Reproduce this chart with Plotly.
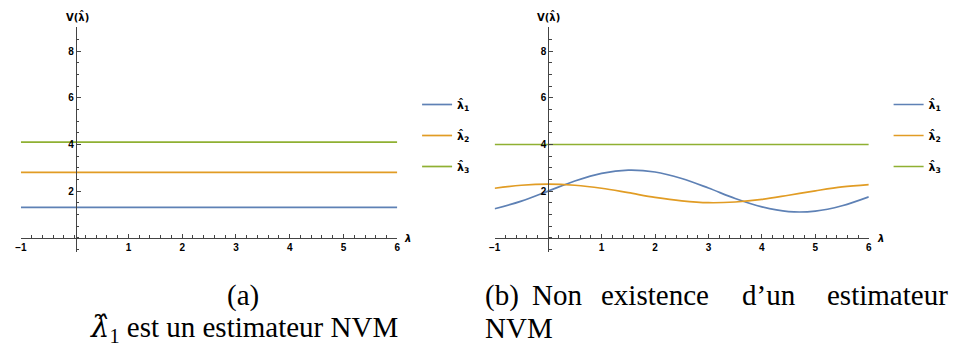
import plotly.graph_objects as go

# ---------------- data ----------------
x_ends = [-1, 6]
levels_a = {"1": 1.3, "2": 2.8, "3": 4.1}          # panel (a): constant variances

lam_b = [-1, -0.5, 0, 0.5, 1, 1.5, 2, 2.5, 3, 3.5, 4, 4.5, 5, 5.5, 6]
v1_b = [1.24, 1.57, 2.00, 2.43, 2.76, 2.90, 2.82, 2.54, 2.13, 1.68, 1.32, 1.12, 1.14, 1.37, 1.75]
v2_b = [2.12, 2.25, 2.30, 2.25, 2.12, 1.93, 1.73, 1.58, 1.50, 1.53, 1.64, 1.82, 2.01, 2.18, 2.28]
v3_b = 4.0

x_ticks = [-1, 1, 2, 3, 4, 5, 6]
y_ticks = [2, 4, 6, 8]

colors = {"1": "#5E81B5", "2": "#E19C24", "3": "#8FB032"}
names = {k: "λ\u0302<sub>%s</sub>" % k for k in ["1", "2", "3"]}

W, H = 955, 347
def px(x):
    return x / W
def py(y):
    return 1 - y / H

fig = go.Figure()

# panel (a)
for k in ["1", "2", "3"]:
    fig.add_trace(go.Scatter(x=x_ends, y=[levels_a[k]] * 2, mode="lines",
                             line=dict(color=colors[k], width=1.7),
                             name=names[k], legend="legend", legendgroup="a" + k,
                             xaxis="x", yaxis="y"))
# panel (b)
series_b = {"1": v1_b, "2": v2_b, "3": [v3_b] * len(lam_b)}
for k in ["1", "2", "3"]:
    fig.add_trace(go.Scatter(x=lam_b, y=series_b[k], mode="lines",
                             line=dict(color=colors[k], width=1.7, shape="spline"),
                             name=names[k], legend="legend2", legendgroup="b" + k,
                             xaxis="x2", yaxis="y2"))

axcol = "#444444"
tickfont = dict(family="Liberation Sans, Arial", size=10, color="black", weight="bold")

def xax(dom, pos):
    return dict(domain=dom, range=[-1, 6], anchor="free", position=pos,
                showgrid=False, zeroline=False, showline=True, linecolor=axcol, linewidth=1,
                ticks="inside", ticklen=4, tickcolor=axcol, tickwidth=1,
                tickmode="array", tickvals=x_ticks, tickfont=tickfont,
                minor=dict(dtick=0.2, tick0=0, ticks="inside", ticklen=2.5,
                           tickcolor=axcol, tickwidth=1))

def yax(pos):
    return dict(domain=[py(252.1), py(27.1)], range=[-0.62, 9.04], anchor="free", position=pos,
                showgrid=False, zeroline=False, showline=True, linecolor=axcol, linewidth=1,
                ticks="inside", ticklen=4, tickcolor=axcol, tickwidth=1,
                tickmode="array", tickvals=y_ticks, tickfont=tickfont,
                minor=dict(dtick=0.5, tick0=0, ticks="inside", ticklen=2.5,
                           tickcolor=axcol, tickwidth=1))

legfont = dict(family="DejaVu Sans", size=11, color="black", weight="bold")

fig.update_layout(
    width=W, height=H,
    margin=dict(l=0, r=0, t=0, b=0),
    paper_bgcolor="white", plot_bgcolor="white",
    xaxis=xax([px(15), px(395)], py(237.7)),
    yaxis=yax(px(70.4)),
    xaxis2=xax([px(493.3), px(871)], py(237.7)),
    yaxis2=yax(px(547.5)),
    legend=dict(x=px(415), y=py(90), xanchor="left", yanchor="top",
                font=legfont, tracegroupgap=12, bgcolor="rgba(0,0,0,0)"),
    legend2=dict(x=px(891), y=py(90), xanchor="left", yanchor="top",
                 font=legfont, tracegroupgap=12, bgcolor="rgba(0,0,0,0)"),
    showlegend=True,
)

ann = []
lab = dict(family="DejaVu Sans", size=10, color="black", weight="bold")
for xc in [72.5, 548]:
    ann.append(dict(x=px(xc), y=py(17), xref="paper", yref="paper", text="V(λ\u0302)",
                    showarrow=False, font=lab, xanchor="center", yanchor="middle"))
for xc in [405, 883]:
    ann.append(dict(x=px(xc), y=py(238), xref="paper", yref="paper", text="<i>λ</i>",
                    showarrow=False, font=lab, xanchor="center", yanchor="middle"))

cap = dict(family="Liberation Serif, Times New Roman", size=29, color="black")
ann.append(dict(x=px(239), y=py(295), xref="paper", yref="paper", text="(a)",
                showarrow=False, font=cap, xanchor="center", yanchor="middle"))
ann.append(dict(x=px(240), y=py(328), xref="paper", yref="paper",
                text="<span style=\"font-family:'DejaVu Serif'\"><i>λ\u0302</i></span><sub>1</sub> est un estimateur NVM",
                showarrow=False, font=cap, xanchor="center", yanchor="middle"))
words_b = [("(b)", 482, "left"), ("Non", 529, "left"), ("existence", 655, "center"),
           ("d’un", 770, "center"), ("estimateur", 953, "right")]
for w, xl, anc in words_b:
    ann.append(dict(x=px(xl), y=py(295), xref="paper", yref="paper", text=w,
                    showarrow=False, font=cap, xanchor=anc, yanchor="middle"))
ann.append(dict(x=px(482), y=py(328), xref="paper", yref="paper", text="NVM",
                showarrow=False, font=cap, xanchor="left", yanchor="middle"))
fig.update_layout(annotations=ann)

fig.write_html("out.html", config={"displayModeBar": False},
               post_script="document.body.style.margin='0px';document.body.style.overflow='hidden';")
